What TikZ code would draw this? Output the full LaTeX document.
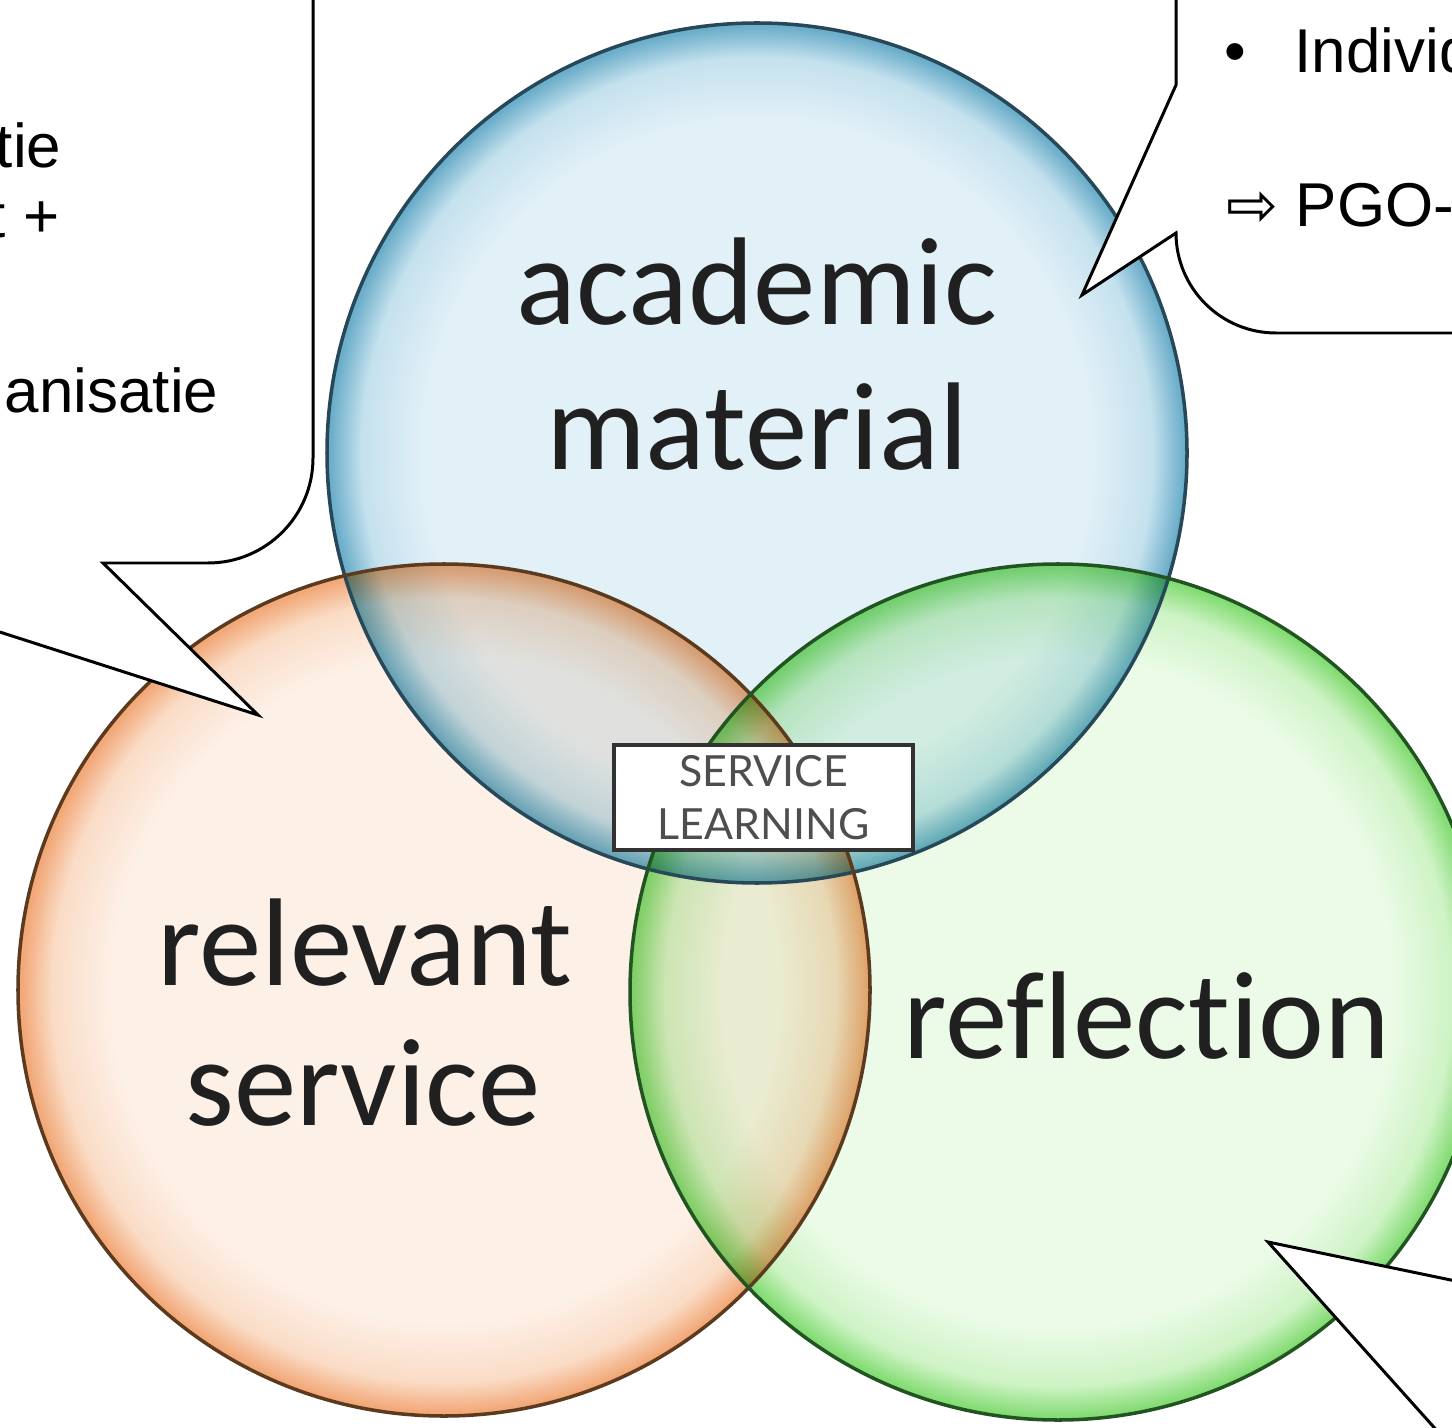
\documentclass[tikz,border=0pt]{standalone}
\usepackage{fontspec}
\setmainfont{Carlito}[Ligatures={NoCommon,NoRare}]
\newfontfamily\calloutfont{Liberation Sans}
\newfontfamily\dejafont{DejaVu Sans}
\newfontfamily\boxfont{Lato}

\definecolor{blueIn}{RGB}{226,240,247}
\definecolor{blueMid}{RGB}{196,225,238}
\definecolor{blueRim}{RGB}{108,174,202}
\definecolor{blueLine}{RGB}{38,72,88}
\definecolor{orangeIn}{RGB}{253,240,231}
\definecolor{orangeMid}{RGB}{250,220,198}
\definecolor{orangeRim}{RGB}{242,168,120}
\definecolor{orangeLine}{RGB}{92,58,30}
\definecolor{greenIn}{RGB}{236,251,232}
\definecolor{greenMid}{RGB}{206,243,197}
\definecolor{greenRim}{RGB}{132,220,116}
\definecolor{greenLine}{RGB}{34,84,34}
\definecolor{inkgray}{RGB}{32,32,32}
\definecolor{boxgray}{RGB}{50,50,50}
\definecolor{boxtext}{RGB}{78,78,78}

% circle edge sits at 25bp of the shading
\pgfdeclareradialshading{blueglass}{\pgfpoint{0bp}{0bp}}{color(0bp)=(blueIn); color(19.5bp)=(blueIn); color(23bp)=(blueMid); color(24.8bp)=(blueRim); color(50bp)=(blueRim)}
\pgfdeclareradialshading{orangeglass}{\pgfpoint{0bp}{0bp}}{color(0bp)=(orangeIn); color(19.5bp)=(orangeIn); color(23bp)=(orangeMid); color(24.8bp)=(orangeRim); color(50bp)=(orangeRim)}
\pgfdeclareradialshading{greenglass}{\pgfpoint{0bp}{0bp}}{color(0bp)=(greenIn); color(19.5bp)=(greenIn); color(23bp)=(greenMid); color(24.8bp)=(greenRim); color(50bp)=(greenRim)}

\begin{document}
\begin{tikzpicture}[x=0.01cm, y=-0.01cm,
  circlabel/.style={font=\fontsize{35.5}{41}\selectfont, text=inkgray, inner sep=0pt, anchor=base},
  ring/.style={line width=1pt},
  callout/.style={draw=black, fill=white, line width=0.85pt, line join=miter},
  callouttext/.style={font=\calloutfont\fontsize{17.6}{21}\selectfont, inner sep=0pt}]
  \useasboundingbox (0,0) rectangle (1452,1428);
  \clip (0,0) rectangle (1452,1428);

  % the three circles
  \coordinate (academicC) at (757,453);
  \coordinate (serviceC) at (444,990);
  \coordinate (reflectC) at (1058,992);
  \begin{scope}[blend group=multiply]
    \shade[shading=blueglass] (academicC) circle[radius=430];
    \shade[shading=orangeglass] (serviceC) circle[radius=426];
    \shade[shading=greenglass] (reflectC) circle[radius=428];
  \end{scope}
  \draw[ring, draw=blueLine] (academicC) circle[radius=430];
  \draw[ring, draw=orangeLine] (serviceC) circle[radius=426];
  \draw[ring, draw=greenLine] (reflectC) circle[radius=428];

  \node[circlabel] (academic) at (757,325) {academic};
  \node[circlabel] (material) at (757,470) {material};
  \node[circlabel] (relevant) at (365,985) {relevant};
  \node[circlabel] (service) at (363,1125) {service};
  \node[circlabel] (reflection) at (1147,1058) {reflection};

  \node[draw=boxgray, line width=1.15pt, fill=white, minimum width=2.99cm, minimum height=1.05cm,
        align=center, inner sep=0pt, text=boxtext, font=\boxfont\fontsize{12.2}{15}\selectfont]
        (slbox) at (763.5,797.5) {SERVICE\\LEARNING};

  % callouts
  \coordinate (leftTip) at (258,715);
  \coordinate (topTip) at (1082,295);
  \coordinate (lowTip) at (1268,1242);
  \draw[callout] (313,-20) -- (313,458) arc[start angle=0, end angle=90, radius=105]
    -- (103,563) -- (leftTip) -- (-215,563) -- (-300,563) -- (-300,-20) -- cycle;
  \draw[callout] (1176,-20) -- (1176,85) -- (topTip) -- (1176,233)
    arc[start angle=180, end angle=90, radius=100] -- (1560,333) -- (1560,-20) -- cycle;
  \draw[callout] (lowTip) -- (1600,1311) -- (1600,1520) -- (1517,1520) -- cycle;

  \node[callouttext, anchor=base east] (txtTie) at (62,168) {tie};
  \node[callouttext, anchor=base east] (txtPlus) at (60,238) {t +};
  \node[callouttext, anchor=base east] (txtOrg) at (219,413) {anisatie};

  \node[callouttext, anchor=base west] (bullet) at (1224,73) {•};
  \node[callouttext, anchor=base west] (txtIndiv) at (1294,73) {Individ};
  \node[callouttext, font=\dejafont\fontsize{17.6}{21}\selectfont, anchor=base west] (arrowSym) at (1226,227) {⇨};
  \node[callouttext, anchor=base west] (txtPGO) at (1295,227) {PGO-};
\end{tikzpicture}
\end{document}
